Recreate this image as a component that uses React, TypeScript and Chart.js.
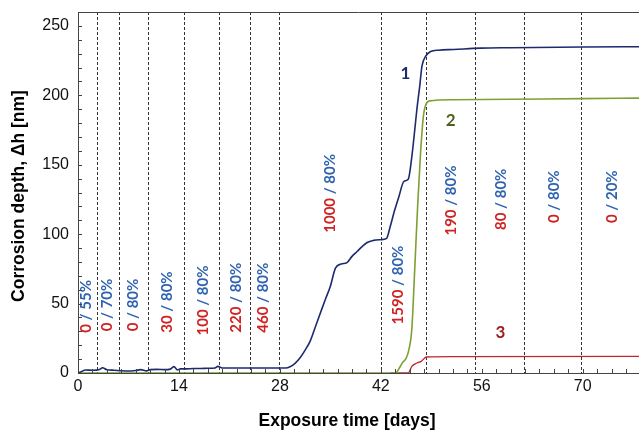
import React, { useEffect, useRef } from "react";
import { Chart, registerables } from "chart.js";

Chart.register(...registerables);

// Curve 1 (navy)
const curve1Days = [0, 0.5, 1.0, 2.0, 3.0, 3.4, 4.0, 5.0, 6.0, 7.0, 8.0, 8.7, 9.5, 10.0, 11.0, 12.0, 12.8, 13.3, 13.8, 14.2, 15, 16, 17, 18, 19, 19.4, 20, 22, 24, 26, 28, 28.8, 29.4, 30.1, 30.8, 31.5, 32.2, 32.9, 33.6, 34.3, 35.0, 35.7, 36.5, 37.3, 38.0, 38.7, 39.4, 40.1, 41.0, 42.0, 42.8, 43.3, 43.9, 44.5, 45.2, 45.8, 46.3, 46.7, 47.0, 47.4, 47.7, 48.2, 48.9, 50, 52.1, 55.8, 60, 70, 77.8];
const curve1Depth = [0, 1.0, 2.2, 2.0, 2.6, 3.8, 2.4, 2.0, 1.6, 1.4, 1.8, 2.4, 1.5, 2.4, 2.6, 2.4, 2.8, 4.6, 2.2, 3.0, 3.0, 3.2, 3.2, 3.4, 3.6, 4.8, 3.6, 3.6, 3.6, 3.6, 3.6, 3.6, 4.5, 7, 11, 16.5, 23, 33, 43, 53, 62.5, 75.5, 78.5, 79.5, 84, 87.5, 91, 94, 95.5, 96, 97, 105.5, 117, 127, 138, 139.5, 156, 175, 190, 207, 221, 228, 231.5, 232.5, 233, 234, 234.3, 234.8, 235];

// Curve 2 (olive green)
const curve2Days = [0, 44.0, 44.5, 45.0, 45.5, 45.9, 46.3, 46.7, 47.1, 47.5, 47.9, 48.3, 48.8, 52, 60, 70, 77.8];
const curve2Depth = [0, 0, 3, 7.5, 10.5, 17, 32, 75, 120, 158, 185, 194, 196, 196.8, 197.2, 197.6, 198];

// Curve 3 (red)
const curve3Days = [43.3, 45.8, 46.3, 47.0, 47.6, 48.3, 52, 77.8];
const curve3Depth = [0, 0, 4.8, 7.2, 8.4, 11.5, 11.8, 12];

// Exposure condition changes (dashed lines)
const changeDays = [2.6, 5.7, 9.7, 14.7, 19.6, 23.9, 27.9, 42.0, 48.2, 55.1, 61.8, 69.8];

// Condition labels: red part / blue part
const condDays = [1.2, 4.0, 7.7, 12.3, 17.3, 21.9, 25.7, 35.0, 44.4, 51.8, 58.7, 66.0, 74.1];
const condBase = [29, 30, 30, 29, 27, 29, 29, 101, 35, 99, 103, 108, 108];
const condRed = ["0", "0", "0", "30", "100", "220", "460", "1000", "1590", "190", "80", "0", "0"];
const condBlue = ["55%", "70%", "80%", "80%", "80%", "80%", "80%", "80%", "80%", "80%", "80%", "80%", "20%"];

// Curve number labels
const curveNames = ["1", "2", "3"];
const curveNameDays = [45.4, 51.7, 58.6];
const curveNameDepth = [216, 182, 29];
const curveNameColors = ["#1d2a6e", "#4f5f1e", "#9a1e1e"];

// Axes
const xTickLabels = [0, 14, 28, 42, 56, 70];
const yTickLabels = [0, 50, 100, 150, 200, 250];
const xMin = 0, xMax = 77.8, xMinorStep = 2;
const yMin = 0, yMax = 260, yMinorStep = 10;

const toPoints = (d: number[], v: number[]) => d.map((x, i) => ({ x, y: v[i] }));

const overlayPlugin = {
  id: "overlay",
  beforeDatasetsDraw(chart: any) {
    const { ctx, chartArea, scales } = chart;
    const xs = scales.x;
    ctx.save();
    ctx.strokeStyle = "#333";
    ctx.lineWidth = 1;
    ctx.setLineDash([3, 2]);
    changeDays.forEach((d) => {
      const px = Math.round(xs.getPixelForValue(d)) + 0.5;
      ctx.beginPath();
      ctx.moveTo(px, chartArea.top);
      ctx.lineTo(px, chartArea.bottom);
      ctx.stroke();
    });
    ctx.restore();
  },
  afterDatasetsDraw(chart: any) {
    const { ctx, scales } = chart;
    const xs = scales.x, ys = scales.y;
    ctx.save();
    ctx.font = "bold 15px Lato, 'Open Sans', sans-serif";
    ctx.textBaseline = "middle";
    ctx.textAlign = "left";
    condDays.forEach((d, i) => {
      const px = xs.getPixelForValue(d);
      const py = ys.getPixelForValue(condBase[i]);
      ctx.save();
      ctx.translate(px, py);
      ctx.rotate(-Math.PI / 2);
      const red = condRed[i];
      ctx.fillStyle = "#d02222";
      ctx.fillText(red, 0, 0);
      const w = ctx.measureText(red).width;
      ctx.fillStyle = "#2f63b0";
      ctx.fillText(" / " + condBlue[i], w, 0);
      ctx.restore();
    });
    ctx.font = "bold 17px Lato, 'Open Sans', sans-serif";
    ctx.textAlign = "center";
    curveNames.forEach((n, i) => {
      ctx.fillStyle = curveNameColors[i];
      ctx.fillText(n, xs.getPixelForValue(curveNameDays[i]), ys.getPixelForValue(curveNameDepth[i]));
    });
    ctx.restore();
  },
  afterDraw(chart: any) {
    const { ctx, chartArea, scales } = chart;
    const xs = scales.x, ys = scales.y;
    ctx.save();
    ctx.strokeStyle = "#444";
    ctx.lineWidth = 1;
    // top frame line
    ctx.beginPath();
    ctx.moveTo(chartArea.left, Math.round(chartArea.top) + 0.5);
    ctx.lineTo(chartArea.right, Math.round(chartArea.top) + 0.5);
    ctx.stroke();
    // inward tick marks
    ctx.beginPath();
    xs.ticks.forEach((t: any) => {
      const px = Math.round(xs.getPixelForValue(t.value)) + 0.5;
      ctx.moveTo(px, chartArea.bottom);
      ctx.lineTo(px, chartArea.bottom - 4);
    });
    ys.ticks.forEach((t: any) => {
      const py = Math.round(ys.getPixelForValue(t.value)) + 0.5;
      ctx.moveTo(chartArea.left, py);
      ctx.lineTo(chartArea.left + 4, py);
    });
    ctx.stroke();
    // axis titles
    ctx.fillStyle = "#000";
    ctx.font = "bold 17.5px 'Liberation Sans', Arial, sans-serif";
    ctx.textAlign = "center";
    ctx.textBaseline = "middle";
    ctx.fillText("Exposure time [days]", 347, 421);
    ctx.save();
    ctx.translate(19, 196);
    ctx.rotate(-Math.PI / 2);
    ctx.fillText("Corrosion depth, \u0394h [nm]", 0, 0);
    ctx.restore();
    ctx.restore();
  },
};

export default function App() {
  const ref = useRef<HTMLCanvasElement | null>(null);
  useEffect(() => {
    document.body.style.margin = "0";
    const canvas = ref.current;
    if (!canvas) return;
    const tickFont = { family: "'Liberation Sans Narrow', 'Liberation Sans', Arial, sans-serif", size: 16 };
    const chart = new Chart(canvas, {
      type: "line",
      data: {
        datasets: [
          { label: "1", data: toPoints(curve1Days, curve1Depth), borderColor: "#1d2a6e", borderWidth: 1.6, pointRadius: 0, cubicInterpolationMode: "monotone", fill: false },
          { label: "2", data: toPoints(curve2Days, curve2Depth), borderColor: "#7fa032", borderWidth: 1.6, pointRadius: 0, cubicInterpolationMode: "monotone", fill: false },
          { label: "3", data: toPoints(curve3Days, curve3Depth), borderColor: "#c0262c", borderWidth: 1.4, pointRadius: 0, cubicInterpolationMode: "monotone", fill: false },
        ],
      },
      options: {
        responsive: false,
        animation: false,
        layout: { padding: { top: 12, right: 0, left: 0, bottom: 0 } },
        plugins: { legend: { display: false }, tooltip: { enabled: false } },
        scales: {
          x: {
            type: "linear",
            min: xMin,
            max: xMax,
            afterBuildTicks: (s: any) => {
              const t = [];
              for (let v = xMin; v <= xMax; v += xMinorStep) t.push({ value: v });
              s.ticks = t;
            },
            afterFit: (s: any) => { s.height = 57; s.paddingLeft = 0; s.paddingRight = 0; },
            ticks: {
              autoSkip: false,
              maxRotation: 0,
              padding: 4,
              color: "#111",
              font: tickFont,
              callback: (v: any) => (xTickLabels.includes(Number(v)) ? String(v) : ""),
            },
            grid: { display: true, drawOnChartArea: false, drawTicks: false },
            border: { display: true, color: "#444", width: 1 },
          },
          y: {
            type: "linear",
            min: yMin,
            max: yMax,
            afterBuildTicks: (s: any) => {
              const t = [];
              for (let v = yMin; v <= yMax; v += yMinorStep) t.push({ value: v });
              s.ticks = t;
            },
            afterFit: (s: any) => { s.width = 78; s.paddingTop = 0; s.paddingBottom = 0; },
            ticks: {
              autoSkip: false,
              padding: 9,
              color: "#111",
              font: tickFont,
              callback: (v: any) => (yTickLabels.includes(Number(v)) ? String(v) : ""),
            },
            grid: { display: true, drawOnChartArea: false, drawTicks: false },
            border: { display: true, color: "#444", width: 1 },
          },
        },
      },
      plugins: [overlayPlugin],
    } as any);
    return () => chart.destroy();
  }, []);
  return (
    <div style={{ width: 639, height: 430, background: "#fff" }}>
      <canvas ref={ref} width={639} height={430} />
    </div>
  );
}
